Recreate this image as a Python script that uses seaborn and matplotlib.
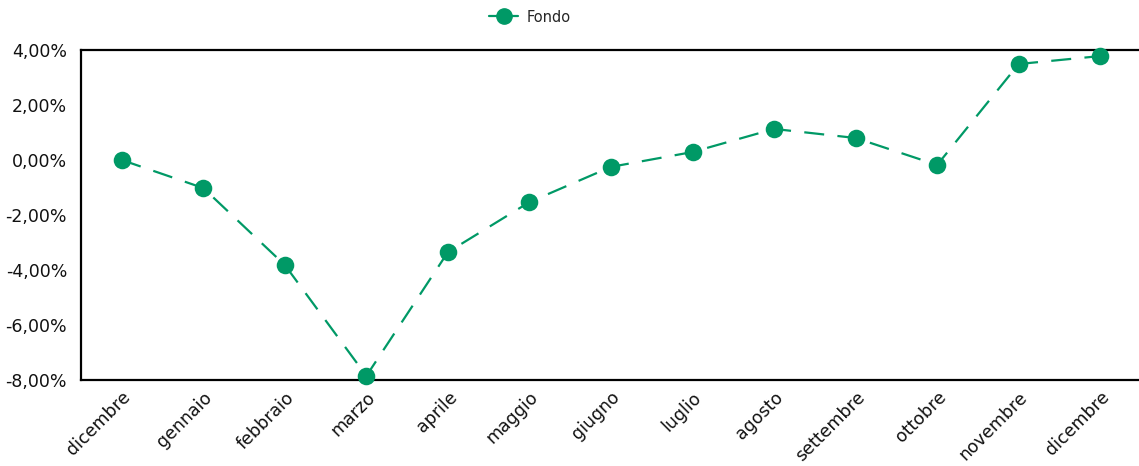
import pandas as pd
import matplotlib
matplotlib.use("Agg")
import matplotlib.pyplot as plt
import seaborn as sns
from matplotlib.lines import Line2D
from matplotlib.ticker import FuncFormatter

months = ['dicembre', 'gennaio', 'febbraio', 'marzo', 'aprile', 'maggio', 'giugno',
          'luglio', 'agosto', 'settembre', 'ottobre', 'novembre', 'dicembre']
fondo = [0.00, -1.02, -3.82, -7.85, -3.35, -1.53, -0.25, 0.29, 1.13, 0.80, -0.18, 3.49, 3.78]
yticks = [-8, -6, -4, -2, 0, 2, 4]

GREEN = '#009966'

sns.set_style("white")
plt.rcParams['font.family'] = ['DejaVu Sans']

fig = plt.figure(figsize=(11.39, 4.66), dpi=100)
ax = fig.add_axes([81 / 1139, 86 / 466, 1060 / 1139, 330 / 466])

df = pd.DataFrame({'idx': range(len(months)), 'val': fondo})
sns.lineplot(data=df, x='idx', y='val', ax=ax, color=GREEN, linewidth=1.6,
             linestyle=(0, (9, 6)), estimator=None)
sns.scatterplot(data=df, x='idx', y='val', ax=ax, color=GREEN, s=160,
                edgecolor=GREEN, linewidth=0, zorder=5, clip_on=False)

ax.set_xlim(-0.5, len(months) - 0.5)
ax.set_ylim(-8, 4)
ax.set_yticks(yticks)
ax.yaxis.set_major_formatter(FuncFormatter(lambda v, p: f"{v:.2f}%".replace('.', ',')))
ax.set_xticks(range(len(months)))
ax.set_xticklabels(months, rotation=45, ha='right', rotation_mode='anchor')
ax.tick_params(axis='both', length=0, labelsize=12.5, colors='#111111')
ax.tick_params(axis='x', pad=6)
ax.tick_params(axis='y', pad=10)
ax.set_xlabel('')
ax.set_ylabel('')

for side in ['left', 'top', 'bottom']:
    ax.spines[side].set_visible(True)
    ax.spines[side].set_color('black')
    ax.spines[side].set_linewidth(1.6)
ax.spines['right'].set_visible(False)

handle = Line2D([], [], color=GREEN, linewidth=1.6, marker='o', markersize=11)
fig.legend([handle], ['Fondo'], loc='center', bbox_to_anchor=(530 / 1139, 1 - 17 / 466),
           frameon=False, fontsize=10.5, handlelength=2.0, handletextpad=0.6)

fig.savefig('out.png', dpi=100)
